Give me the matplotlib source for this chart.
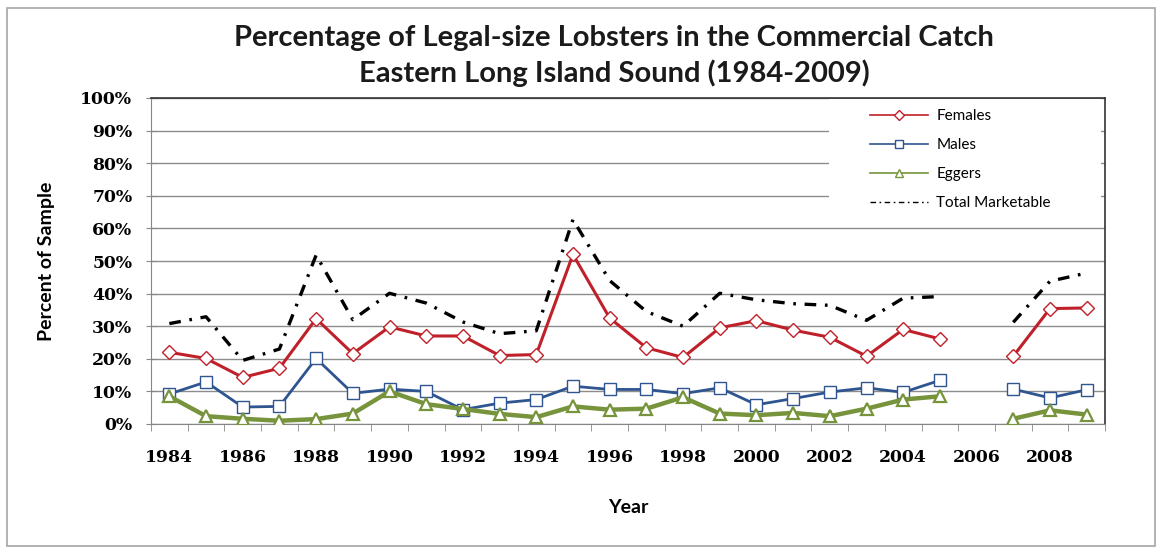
import numpy as np
import matplotlib
matplotlib.use("Agg")
import matplotlib.pyplot as plt
from matplotlib.patches import Rectangle
from matplotlib.lines import Line2D

plt.rcParams['font.family'] = ['Lato', 'DejaVu Sans']

# Percent of sample that is legal size, by year (no survey in 2006)
years = list(range(1984, 2010))
females = [22.0, 20.1, 14.3, 17.1, 32.3, 21.6, 29.8, 27.0, 27.0, 21.0, 21.3, 52.0, 32.5,
           23.4, 20.4, 29.5, 31.7, 28.8, 26.6, 20.8, 29.0, 26.1, np.nan, 20.8, 35.4, 35.6]
males = [9.2, 12.9, 5.2, 5.4, 20.1, 9.4, 10.7, 10.0, 4.4, 6.4, 7.5, 11.6, 10.6,
         10.6, 9.3, 11.1, 5.9, 7.8, 9.8, 11.1, 9.7, 13.4, np.nan, 10.7, 8.0, 10.5]
eggers = [8.5, 2.4, 1.6, 1.0, 1.5, 3.2, 10.0, 6.1, 4.6, 3.1, 2.1, 5.4, 4.4,
          4.7, 8.2, 3.2, 2.7, 3.4, 2.4, 4.7, 7.5, 8.5, np.nan, 1.6, 4.2, 2.9]
total = [30.8, 32.9, 19.5, 23.0, 51.8, 32.0, 40.1, 37.1, 31.3, 27.7, 28.6, 62.7, 44.0,
         34.5, 30.0, 40.1, 38.1, 36.9, 36.4, 31.8, 38.6, 39.1, np.nan, 31.2, 43.8, 46.3]
series_names = ['Females', 'Males', 'Eggers', 'Total Marketable']

RED, BLUE, GREEN = '#c0202a', '#2e5590', '#77933c'

W, H = 1162, 548
fig = plt.figure(figsize=(W / 100, H / 100), dpi=100)
ax = fig.add_axes([151 / W, 1 - 424 / H, (1105 - 151) / W, (424 - 98) / H])

# outer chart border
fig.patches.append(Rectangle((7 / W, 2 / H), (1155 - 7) / W, (540 - 2) / H,
                             transform=fig.transFigure, fill=False,
                             edgecolor='#a6a6a6', lw=1.2))

ax.plot(years, females, color=RED, lw=2.2, marker='D', ms=7.5,
        mfc='white', mec=RED, mew=1.0, zorder=3)
ax.plot(years, males, color=BLUE, lw=2.0, marker='s', ms=8.5,
        mfc='white', mec=BLUE, mew=1.0, zorder=4)
ax.plot(years, eggers, color=GREEN, lw=3.2, marker='^', ms=8.5,
        mfc='white', mec=GREEN, mew=1.6, zorder=5)
ax.plot(years, total, color='black', lw=2.4, dashes=(3.5, 2.6, 0.8, 2.6), zorder=6)

ax.set_xlim(1983.5, 2009.5)
ax.set_ylim(0, 100)

ax.set_yticks(range(0, 101, 10))
ax.set_yticklabels([f'{v}%' for v in range(0, 101, 10)])
ax.set_xticks(range(1984, 2009, 2))
ax.set_xticks(np.arange(1983.5, 2010, 1), minor=True)
ax.tick_params(axis='x', which='major', length=0, pad=18)
ax.tick_params(axis='x', which='minor', length=5, direction='out', color='#868686')
ax.tick_params(axis='y', length=7, direction='inout', color='#868686', pad=10)
for lab in ax.get_xticklabels() + ax.get_yticklabels():
    lab.set_fontfamily('DejaVu Serif')
    lab.set_fontweight('bold')
    lab.set_fontsize(12.4)

ax.yaxis.grid(True, color='#8c8c8c', lw=1.0)
ax.set_axisbelow(True)
for side in ('left', 'bottom'):
    ax.spines[side].set_color('#868686')
for side in ('top', 'right'):
    ax.spines[side].set_color('#333333')
    ax.spines[side].set_linewidth(1.2)

# white area behind the legend
ax.add_patch(Rectangle((0.711, 0.64), 0.285, 0.357, transform=ax.transAxes,
                       facecolor='white', edgecolor='none', zorder=1))

handles = [
    Line2D([], [], color=RED, lw=1.2, marker='D', ms=5, mfc='white', mec=RED, mew=1.0),
    Line2D([], [], color=BLUE, lw=1.2, marker='s', ms=6, mfc='white', mec=BLUE, mew=1.0),
    Line2D([], [], color=GREEN, lw=1.2, marker='^', ms=6, mfc='white', mec=GREEN, mew=1.0),
    Line2D([], [], color='black', lw=1.0, dashes=(4, 2.5, 1.2, 2.5)),
]
leg = ax.legend(handles, series_names, loc='upper left',
                bbox_to_anchor=(870 / W, 1 - 109 / H),
                bbox_transform=fig.transFigure, frameon=False, fontsize=11,
                handlelength=3.8, handletextpad=0.55, labelspacing=0.98,
                borderpad=0, borderaxespad=0)
leg.set_zorder(7)

ax.set_ylabel('Percent of Sample', fontsize=14, fontweight='bold', labelpad=18)
ax.set_xlabel('Year', fontsize=14, fontweight='bold', labelpad=24)

fig.text(614 / W, 1 - 38 / H, 'Percentage of Legal-size Lobsters in the Commercial Catch',
         ha='center', va='center', fontsize=21, fontweight='bold', color='#1a1a1a')
fig.text(614 / W, 1 - 73 / H, 'Eastern Long Island Sound (1984-2009)',
         ha='center', va='center', fontsize=21, fontweight='bold', color='#1a1a1a')

fig.savefig('out.png', dpi=100)
